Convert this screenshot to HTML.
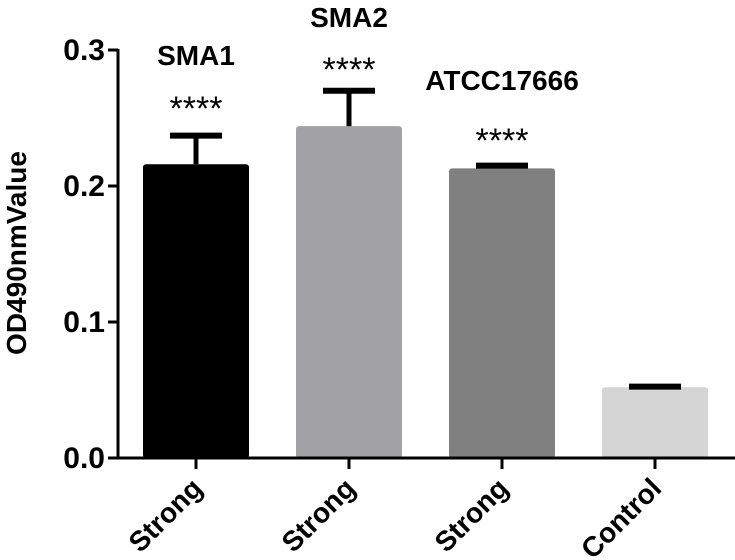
<!DOCTYPE html>
<html><head><meta charset="utf-8"><style>
html,body{margin:0;padding:0;background:#fff;}
svg{display:block;font-family:"Liberation Sans",Arial,sans-serif;font-weight:bold;}
</style></head><body>
<svg id="chart" width="735" height="560" viewBox="0 0 735 560" xmlns="http://www.w3.org/2000/svg">
<g id="bars"></g>
<g id="errs"></g>
<g id="axes"></g>
<g id="labels"></g>
<text x="0" y="0" transform="translate(26,253) rotate(-90)" text-anchor="middle" font-size="28">OD490nmValue</text>
</svg>
<script>
const categories = ["Strong","Strong","Strong","Control"];
const groupNames = ["SMA1","SMA2","ATCC17666",""];
const means = [0.216, 0.244, 0.213, 0.052];
const errTop = [0.237, 0.270, 0.215, 0.0525];
const signif = ["****","****","****",""];
const yTicks = [0.0, 0.1, 0.2, 0.3];
const yTickLabels = ["0.0","0.1","0.2","0.3"];
const colors = ["#000000","#a3a3a7","#808080","#d5d5d5"];

const NS="http://www.w3.org/2000/svg";
const y0=458, yTop=50, yMax=0.3;
function yScale(v){return y0-(v/yMax)*(y0-yTop);}
const band=153, firstC=196;
function xScale(i){return firstC+i*band;}
const bw=106;
function mk(tag,attrs,parent){const e=document.createElementNS(NS,tag);for(const k in attrs)e.setAttribute(k,attrs[k]);parent.appendChild(e);return e;}
const gb=document.getElementById('bars'),ge=document.getElementById('errs'),ga=document.getElementById('axes'),gl=document.getElementById('labels');
means.forEach((m,i)=>{
  const cx=xScale(i), yt=yScale(m);
  const r=mk('rect',{x:cx-bw/2,y:yt,width:bw,height:y0-yt,rx:3,fill:colors[i]},gb);
  
  
  const ye=yScale(errTop[i]);
  const g=mk('g',{},ge);
  
  
  mk('line',{x1:cx,x2:cx,y1:yt,y2:ye,stroke:'#000','stroke-width':5},g);
  mk('line',{x1:cx-26,x2:cx+26,y1:ye,y2:ye,stroke:'#000','stroke-width':6},g);
  const tk=mk('line',{x1:cx,x2:cx,y1:y0,y2:469,stroke:'#000','stroke-width':3},ga);
  
  
  const t=mk('text',{x:0,y:0,transform:`translate(${cx+8},490) rotate(-45)`,'text-anchor':'end','font-size':28},gl);
  t.textContent=categories[i];
  
  
});
const sPos=[[55,100],[17,61],[80,132]];
groupNames.forEach((n,i)=>{
  if(!n)return;
  const cx=xScale(i);
  const t=mk('text',{x:cx,y:sPos[i][0]+10,'text-anchor':'middle','font-size':28},gl);
  t.textContent=n;
  
  
  const s=mk('text',{x:cx,y:sPos[i][1]+20,'text-anchor':'middle','font-size':34,'font-weight':'normal'},gl);
  s.textContent=signif[i];
  
  
});
const ya=mk('line',{x1:118,x2:118,y1:yTop-1,y2:y0+1.5,stroke:'#000','stroke-width':3},ga);


const xa=mk('line',{x1:108,x2:735,y1:y0,y2:y0,stroke:'#000','stroke-width':3},ga);


yTicks.forEach((v,i)=>{
  const y=yScale(v);
  const l=mk('line',{x1:108,x2:118,y1:y,y2:y,stroke:'#000','stroke-width':3},ga);
  
  
  const t=mk('text',{x:105,y:y+10,'text-anchor':'end','font-size':30},gl);
  t.textContent=yTickLabels[i];
  
  
});
</script>
</body></html>
